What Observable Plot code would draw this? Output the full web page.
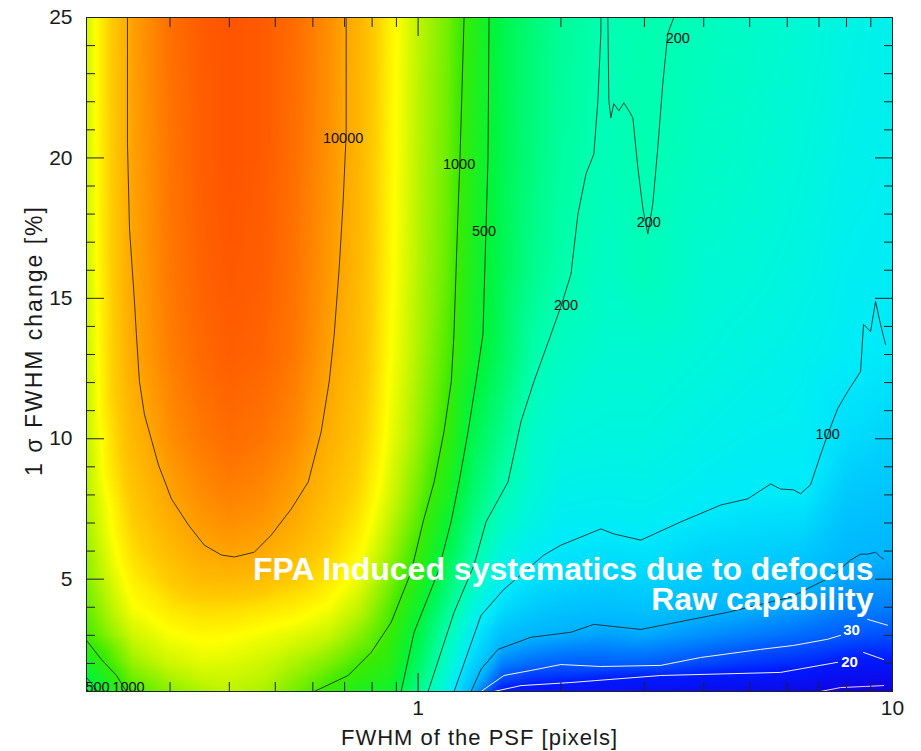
<!DOCTYPE html>
<html><head><meta charset="utf-8">
<script src="https://cdn.jsdelivr.net/npm/d3@7"></script>
<script src="https://cdn.jsdelivr.net/npm/@observablehq/plot@0.6"></script>
<style>
html,body{margin:0;padding:0;background:#fff;}
#chart{width:921px;height:751px;}
</style></head><body><div id="chart"></div>
<script>
// ---- grid: FWHM columns (pixels), FWHM-change rows (%) ----
const fwhmGrid = [0.2, 0.25, 0.3, 0.35, 0.4, 0.47, 0.55, 0.65, 0.75, 0.87, 1.0, 1.15, 1.3, 1.5, 1.75, 2.0, 2.5, 3.0, 4.0, 5.0, 6.5, 8.0, 10];
const changeGrid = [1, 1.5, 2, 3, 4, 5, 6, 7, 8, 10, 13, 16, 20, 25];
const row_1   = [420, 1080, 1500, 1800, 2000, 1800, 1350, 930, 700, 590, 280, 120, 48, 19, 17, 16, 15, 14, 13, 12, 11, 9, 8];
const row_1_5 = [490, 1300, 1800, 2150, 2200, 2000, 1550, 1120, 870, 700, 330, 140, 62, 29, 24, 23, 21, 20, 19, 18, 16, 13, 12];
const row_2   = [640, 1600, 2200, 2500, 2450, 2200, 1800, 1400, 1030, 800, 380, 160, 76, 38, 33, 31, 31, 31, 27, 24, 22, 19, 19];
const row_3   = [1030, 2200, 2900, 3200, 3100, 2800, 2500, 2100, 1500, 950, 470, 200, 103, 58, 51, 48, 45, 47, 41, 37, 33, 30, 28];
const row_4   = [1250, 2900, 3900, 4400, 4400, 4000, 3600, 2900, 2050, 1150, 600, 270, 140, 85, 67, 62, 58, 61, 53, 50, 44, 38, 37];
const row_5   = [1450, 3500, 5300, 6900, 7200, 6600, 5200, 3800, 2650, 1450, 780, 360, 185, 112, 87, 80, 72, 76, 66, 61, 55, 46, 44];
const row_6   = [1600, 4200, 6800, 9300, 10500, 9400, 6900, 4700, 3200, 1750, 960, 460, 240, 135, 105, 95, 88, 91, 76, 72, 66, 54, 51];
const row_7   = [1750, 4900, 8400, 11800, 13500, 12000, 8800, 5600, 3800, 2050, 1150, 560, 290, 170, 125, 107, 104, 105, 92, 85, 81, 59, 55];
const row_8   = [1850, 5600, 10100, 14000, 16500, 14500, 10600, 6500, 4400, 2350, 1320, 700, 350, 200, 140, 116, 113, 115, 104, 101, 98, 65, 61];
const row_10  = [2000, 7200, 13500, 18500, 22000, 19500, 14500, 8300, 5500, 2750, 1620, 920, 440, 270, 160, 136, 130, 130, 118, 110, 106, 83, 73];
const row_13  = [2100, 9300, 17000, 23500, 27500, 25000, 18500, 10500, 6600, 3100, 1820, 1120, 630, 385, 215, 174, 150, 150, 135, 125, 115, 104, 97];
const row_16  = [2150, 10000, 18500, 26000, 30000, 27500, 20000, 11800, 7200, 3300, 1900, 1250, 690, 420, 270, 212, 168, 190, 150, 140, 125, 110, 104];
const row_20  = [2200, 10300, 19500, 27500, 32000, 29000, 21000, 12800, 7500, 3400, 1950, 1300, 740, 440, 300, 235, 188, 205, 170, 155, 135, 118, 110];
const row_25  = [2200, 10600, 21000, 29000, 32000, 29000, 22000, 13600, 7700, 3500, 2000, 1350, 800, 450, 320, 250, 198, 210, 185, 165, 145, 125, 115];
const rows = [row_1, row_1_5, row_2, row_3, row_4, row_5, row_6, row_7, row_8, row_10, row_13, row_16, row_20, row_25];

// ---- contour paths [FWHM, change] ----
const c10000 = [[0.244,25],[0.244,20.5],[0.2464,17.5],[0.2524,14.9],[0.2548,13.71],[0.2586,12.04],[0.265,10.86],[0.2836,9.07],[0.302,7.86],[0.328,6.93],[0.3543,6.21],[0.3849,5.86],[0.41,5.79],[0.4516,5.96],[0.4903,6.57],[0.5403,7.5],[0.5867,8.46],[0.6248,10.25],[0.6496,12.04],[0.6655,13.71],[0.6818,16.07],[0.6951,18.46],[0.7053,20.86],[0.7053,25]];
const c1000 = [[1.25,25],[1.2258,20],[1.21,17.4],[1.19,13.7],[1.175,12.04],[1.134,10.25],[1.081,8.46],[1.0245,7.04],[0.9666,5.25],[0.8774,3.46],[0.7963,2.39],[0.7122,1.57],[0.6041,1.0]];
const c1000corner = [[0.2,2.82],[0.215,2.14],[0.2313,1.57],[0.2428,1.0]];
const c500 = [[1.411,25],[1.404,20],[1.39,17.4],[1.37,13.71],[1.3245,12.04],[1.2744,10.25],[1.22,8.46],[1.1734,7.04],[1.1018,5.25],[0.9808,3.11],[0.9209,1.0]];
const c500corner = [[0.2,1.5],[0.207,1.2],[0.211,1.0]];
const c200 = [[2.4282,25],[2.428,24.43],[2.393,22.04],[2.347,20.14],[2.2589,19.43],[2.172,18.0],[2.1,15.86],[2.0,14.71],[1.905,13.71],[1.7545,12.04],[1.6477,10.61],[1.5471,8.46],[1.3906,7.04],[1.3118,5.5],[1.1909,3.82],[1.0497,1.0]];
const c200tongue = [[2.5119,25],[2.524,22.04],[2.5486,21.43],[2.586,21.93],[2.65,21.68],[2.715,21.96],[2.782,21.68],[2.836,21.43],[2.906,19.64],[2.977,18.21],[3.05,17.29],[3.124,18.36],[3.2007,20.36],[3.2792,22.64],[3.3601,24.43],[3.4595,25]];
const c100 = [[1.1909,1.0],[1.3572,3.71],[1.5172,4.64],[1.8418,5.86],[2.0,6.21],[2.4282,6.79],[2.586,6.61],[2.9485,6.39],[3.5793,7.04],[4.3453,7.64],[4.9513,7.86],[5.537,8.39],[5.81,8.21],[6.188,8.18],[6.401,8.04],[6.719,8.36],[7.0535,9.43],[7.2979,10.14],[7.6618,11.07],[8.0427,11.68],[8.5636,12.39],[8.6888,14.07],[8.99,13.82],[9.2104,14.89],[9.4359,14.07],[9.6673,13.36]];
const c50 = [[1.293,1.0],[1.357,1.79],[1.474,2.5],[1.729,2.93],[2.1,3.11],[2.347,3.39],[2.9485,3.21],[4.495,3.82],[6.1,4.36],[7.405,5.07],[8.157,5.68],[8.564,5.89],[8.86,5.89],[9.21,5.96],[9.436,5.79],[9.574,5.71]];
const c30a = [[1.357,1.0],[1.517,1.57],[1.729,1.75],[2.0,1.96],[2.428,1.89],[3.248,1.93],[3.94,2.21],[5.275,2.5],[6.188,2.64],[7.298,2.86],[7.7735,3.0]];
const c30b = [[8.86,3.57],[9.76,3.36]];
const c20a = [[1.445,1.0],[1.648,1.21],[2.1,1.32],[3.248,1.57],[5.81,1.68],[7.662,2.04]];
const c20b = [[8.689,2.39],[9.574,2.14]];
const c10 = [[7.05,1.0],[7.77,1.14],[8.77,1.18],[9.574,1.21]];

const darkLabels = [
  {t:"10000", x:0.695, y:20.69},
  {t:"1000", x:1.22, y:19.76},
  {t:"500", x:1.377, y:17.38},
  {t:"200", x:2.05, y:14.74},
  {t:"200", x:3.064, y:17.70},
  {t:"200", x:3.527, y:24.25},
  {t:"100", x:7.30, y:10.15},
  {t:"500", x:0.211, y:1.16},
  {t:"1000", x:0.2452, y:1.16}
];
const whiteLabels = [
  {t:"30", x:8.2, y:3.17},
  {t:"20", x:8.12, y:2.03}
];

// ---- axis ticks ----
const xLabelTicks = [1, 10];
const xMajor = [1];
const xMinor = [0.3,0.4,0.5,0.6,0.7,0.8,0.9,2,3,4,5,6,7,8,9];
const yMajor = [5, 10, 15, 20, 25];
const yMinor = [2,3,4,6,7,8,9,11,12,13,14,16,17,18,19,21,22,23,24];

// ---- colour stops (log10 value -> colour) ----
const colorStops = [0.9, 1.3, 1.48, 1.7, 2.0, 2.15, 2.3, 2.7, 3.0, 3.3, 3.48, 3.7, 4.0, 4.3, 4.5];
const colorRange = ["rgb(20,0,220)","rgb(0,25,255)","rgb(0,90,255)","rgb(0,180,255)","rgb(0,235,250)","rgb(0,248,215)","rgb(0,255,180)","rgb(0,245,60)","rgb(60,235,0)","rgb(190,245,0)","rgb(255,255,0)","rgb(255,205,0)","rgb(255,165,0)","rgb(255,115,0)","rgb(255,85,0)"];

const gridPoints = [];
rows.forEach((r, i) => r.forEach((v, j) => gridPoints.push({x: fwhmGrid[j], y: changeGrid[i], v})));

const X = d => d[0], Y = d => d[1];
const darkStyle = {x: X, y: Y, stroke: "#1a1a1a", strokeWidth: 0.9, strokeOpacity: 0.9};
const whiteStyle = {x: X, y: Y, stroke: "#f2f4ff", strokeWidth: 1};
const font = "'Liberation Sans', Arial, Helvetica, sans-serif";
const tk = {tickFormat: () => "", label: null, stroke: "#222"};

const chart = Plot.plot({
  width: 921, height: 751,
  marginLeft: 86, marginRight: 29, marginTop: 17, marginBottom: 60,
  style: {fontFamily: font, background: "white", color: "#1a1a1a"},
  x: {type: "log", domain: [0.2, 10], label: null},
  y: {domain: [1, 25], label: null},
  color: {type: "linear", domain: colorStops, range: colorRange, interpolate: "rgb", clamp: true},
  marks: [
    Plot.raster(gridPoints, {x: "x", y: "y", fill: d => Math.log10(d.v), interpolate: "barycentric", x1: 0.2, x2: 10, y1: 1, y2: 25}),
    ...[c10000, c1000, c1000corner, c500, c500corner, c200, c200tongue, c100, c50].map(c => Plot.line(c, darkStyle)),
    ...[c30a, c30b, c20a, c20b].map(c => Plot.line(c, whiteStyle)),
    Plot.line(c10, {x: X, y: Y, stroke: "#f4c8f4", strokeWidth: 1}),
    Plot.text(darkLabels, {x: "x", y: "y", text: "t", fontSize: 14.5, fill: "#111", lineAnchor: "middle"}),
    Plot.text(whiteLabels, {x: "x", y: "y", text: "t", fontSize: 15, fontWeight: "bold", fill: "white", lineAnchor: "middle"}),
    Plot.text(["FPA Induced systematics due to defocus"], {x: 9.12, y: 5.34, text: d => d, textAnchor: "end", lineAnchor: "middle", fontSize: 32, fontWeight: "bold", fill: "white"}),
    Plot.text(["Raw capability"], {x: 9.12, y: 4.25, text: d => d, textAnchor: "end", lineAnchor: "middle", fontSize: 32, fontWeight: "bold", fill: "white"}),
    Plot.frame({stroke: "#222", strokeWidth: 1}),
    // labelled axes
    Plot.axisX(xLabelTicks, {anchor: "bottom", tickSize: 0, tickPadding: 9, fontSize: 21, tickFormat: d => String(d), label: null}),
    Plot.axisY(yMajor, {anchor: "left", tickSize: 0, tickPadding: 14, fontSize: 21, tickFormat: d => String(d), label: null}),
    // inward ticks (shifted inside the frame by an inset equal to their length)
    Plot.axisX(xMajor, {anchor: "bottom", tickSize: 18, insetBottom: 18, ...tk}),
    Plot.axisX(xMinor, {anchor: "bottom", tickSize: 9, insetBottom: 9, ...tk}),
    Plot.axisX(xMajor, {anchor: "top", tickSize: 18, insetTop: 18, ...tk}),
    Plot.axisX(xMinor, {anchor: "top", tickSize: 9, insetTop: 9, ...tk}),
    Plot.axisY(yMajor, {anchor: "left", tickSize: 18, insetLeft: 18, ...tk}),
    Plot.axisY(yMinor, {anchor: "left", tickSize: 9, insetLeft: 9, ...tk}),
    Plot.axisY(yMajor, {anchor: "right", tickSize: 18, insetRight: 18, ...tk}),
    Plot.axisY(yMinor, {anchor: "right", tickSize: 9, insetRight: 9, ...tk}),
    // axis titles
    Plot.text(["FWHM of the PSF [pixels]"], {frameAnchor: "bottom", text: d => d, textAnchor: "middle", dy: 46, dx: -10, fontSize: 22, fill: "#1a1a1a", lineAnchor: "middle"}),
    Plot.text(["1 σ FWHM change [%]"], {frameAnchor: "left", text: d => d, textAnchor: "middle", rotate: -90, dx: -52, dy: -14, fontSize: 23, fill: "#1a1a1a", lineAnchor: "middle"})
  ]
});
// wider letter spacing on the axis titles, as in the reference
d3.select(chart).selectAll("text").each(function() {
  const t = this.textContent;
  if (t === "FWHM of the PSF [pixels]") this.setAttribute("letter-spacing", "1");
  if (t === "1 σ FWHM change [%]") this.setAttribute("letter-spacing", "2");
});
document.getElementById("chart").appendChild(chart);
</script>
</body></html>
